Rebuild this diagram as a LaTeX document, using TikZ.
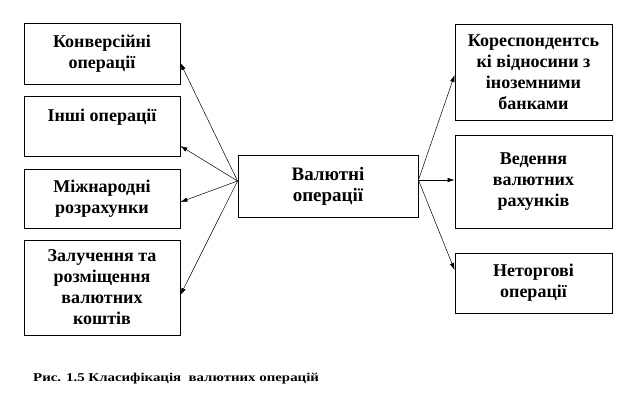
\documentclass[tikz,border=0pt]{standalone}
\usepackage{fontspec}
\setmainfont{Liberation Serif}
\usetikzlibrary{arrows.meta,calc}
\begin{document}
\begin{tikzpicture}[x=1pt,y=-1pt,
  box/.style={draw, line width=0.9pt, inner sep=0pt, align=center,
    font=\bfseries\fontsize{18}{21}\selectfont},
  lbox/.style={box, minimum width=156pt},
  rbox/.style={box, minimum width=157pt},
  arr/.style={-{Latex[length=7pt,width=4.5pt]}, line width=0.5pt}]
\useasboundingbox (0,0) rectangle (636,408);
% left column
\node[lbox, minimum height=61pt] (l1) at (102,53.5) {Конверсійні\\операції};
\node[lbox, minimum height=60pt] (l2) at (102,126) {Інші операції\\\mbox{}};
\node[lbox, minimum height=59pt] (l3) at (102,198.5) {Міжнародні\\розрахунки};
\node[lbox, minimum height=95pt] (l4) at (102,287.5) {Залучення та\\розміщення\\валютних\\коштів};
% centre
\node[box, minimum width=180pt, minimum height=62pt, font=\bfseries\fontsize{19}{21}\selectfont] (c) at (328,186) {Валютні\\операції};
% right column
\node[rbox, minimum height=96pt] (r1) at (533.5,72) {Кореспондентсь\\кі відносини з\\іноземними\\банками};
\node[rbox, minimum height=93pt] (r2) at (533.5,181.5) {Ведення\\валютних\\рахунків};
\node[rbox, minimum height=60pt] (r3) at (533.5,283) {Неторгові\\операції};
% connectors
\coordinate (cl) at (c.west |- 0,181);
\coordinate (cr) at (c.east |- 0,180);
\draw[arr] (cl) -- (l1.east |- 0,63);
\draw[arr] (cl) -- (l2.east |- 0,146);
\draw[arr] (cl) -- (l3.east |- 0,202);
\draw[arr] (cl) -- (l4.east |- 0,295);
\draw[arr] (cr) -- (r1.west |- 0,75);
\draw[arr] (cr) -- (r2.west |- 0,180);
\draw[arr] (cr) -- (r3.west |- 0,270);
% caption
\node[anchor=base west, inner sep=0pt, font=\bfseries\fontsize{12}{14}\selectfont] (cap) at (33,381) {\scalebox{1.24}[1]{Рис. 1.5 Класифікація\ \ валютних операцій}};
\end{tikzpicture}
\end{document}
